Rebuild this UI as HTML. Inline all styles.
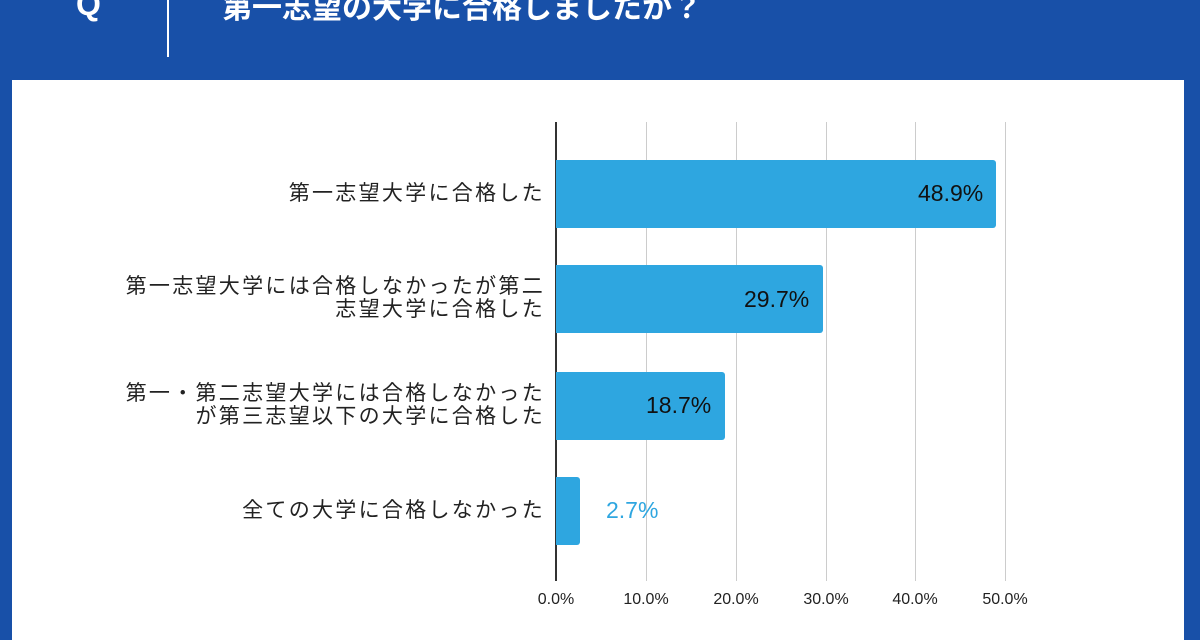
<!DOCTYPE html>
<html><head><meta charset="utf-8"><style>
body{margin:0;width:1200px;height:630px;background:#1850a8;position:relative;overflow:hidden;font-family:"Liberation Sans","Noto Sans CJK JP",sans-serif;}
.q{position:absolute;left:76px;top:-14px;color:#fff;font-size:32px;font-weight:bold;}
.div{position:absolute;left:167px;top:0;width:2px;height:57px;background:#fff;}
.title{position:absolute;left:222px;top:-17px;color:#fff;font-size:30px;font-weight:bold;white-space:nowrap;letter-spacing:0px;}
.panel{position:absolute;left:12px;top:80px;width:1172px;height:560px;background:#fff;}
.g{position:absolute;top:122px;height:459px;width:1px;background:#ccc;}
.axis{position:absolute;left:555px;top:122px;height:459px;width:2px;background:#333;}
.bar{position:absolute;left:556px;height:68px;background:#2ea6e0;border-radius:0 3px 3px 0;}
.v{position:absolute;font-size:23px;color:#111;}
.lab{position:absolute;right:655px;font-size:21px;color:#222;text-align:right;line-height:23px;white-space:nowrap;letter-spacing:2.3px;}
.t{position:absolute;top:591px;font-size:16px;color:#222;width:70px;text-align:center;}
</style></head><body>
<div class="q">Q</div><div class="div"></div>
<div class="title">第一志望の大学に合格しましたか？</div>
<div class="panel"></div>
<div class="g" style="left:646px"></div><div class="g" style="left:736px"></div><div class="g" style="left:826px"></div><div class="g" style="left:915px"></div><div class="g" style="left:1005px"></div>
<div class="axis"></div>
<div class="bar" style="top:160px;width:440px"></div>
<div class="bar" style="top:265px;width:267px"></div>
<div class="bar" style="top:372px;width:169px"></div>
<div class="bar" style="top:477px;width:24px"></div>
<div class="v" style="left:918px;top:180px">48.9%</div>
<div class="v" style="left:744px;top:286px">29.7%</div>
<div class="v" style="left:646px;top:392px">18.7%</div>
<div class="v" style="left:606px;top:497px;color:#2ea6e0">2.7%</div>
<div class="lab" style="top:182px">第一志望大学に合格した</div>
<div class="lab" style="top:275px">第一志望大学には合格しなかったが第二<br>志望大学に合格した</div>
<div class="lab" style="top:382px">第一・第二志望大学には合格しなかった<br>が第三志望以下の大学に合格した</div>
<div class="lab" style="top:499px">全ての大学に合格しなかった</div>
<div class="t" style="left:521px">0.0%</div><div class="t" style="left:611px">10.0%</div><div class="t" style="left:701px">20.0%</div><div class="t" style="left:791px">30.0%</div><div class="t" style="left:880px">40.0%</div><div class="t" style="left:970px">50.0%</div>
</body></html>
